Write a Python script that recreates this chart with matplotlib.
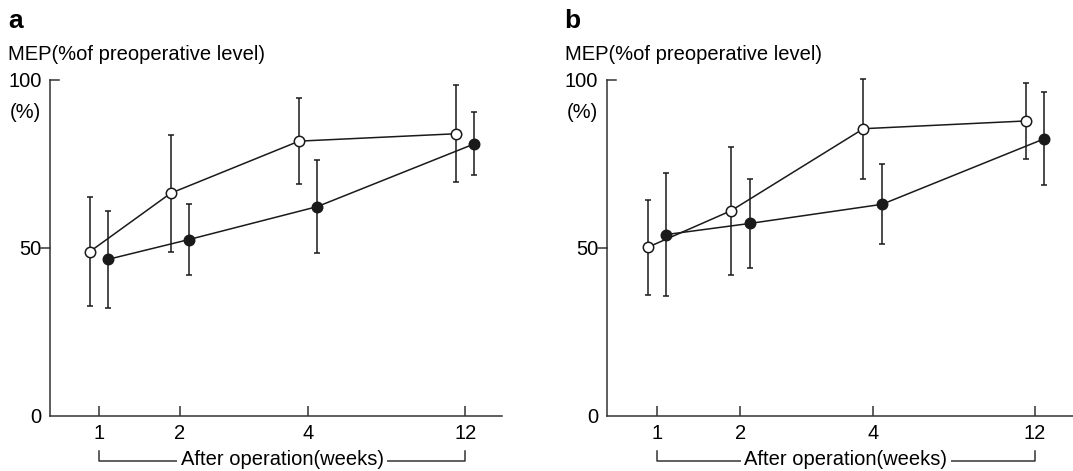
import matplotlib
matplotlib.use('Agg')
from matplotlib import pyplot as pl
from matplotlib.lines import Line2D

pl.rcParams['font.family'] = ['Liberation Sans', 'DejaVu Sans']

weeks = ['1', '2', '4', '12']
# relative tick positions along the x axis (unevenly spaced in the original)
week_pos = [0.108, 0.287, 0.571, 0.919]
shift = 0.02

# panel a
a_open = [48.9, 66.3, 81.8, 84.0]
a_open_err = [16.3, 17.4, 12.9, 14.5]
a_filled = [46.6, 52.5, 62.3, 81.0]
a_filled_err = [14.4, 10.6, 13.8, 9.4]

# panel b
b_open = [50.2, 61.1, 85.5, 87.8]
b_open_err = [14.1, 19.1, 14.9, 11.3]
b_filled = [54.0, 57.3, 63.0, 82.5]
b_filled_err = [18.2, 13.2, 11.9, 13.9]

panels = [
    ('a', a_open, a_open_err, a_filled, a_filled_err, [0.0466, 0.1168, 0.4213, 0.7134]),
    ('b', b_open, b_open_err, b_filled, b_filled_err, [0.5654, 0.1168, 0.4343, 0.7134]),
]

col = '#1a1a1a'
fs = 14.5
fig = pl.figure(figsize=(10.73, 4.71), dpi=100)

for name, op, op_e, fi, fi_e, rect in panels:
    ax = fig.add_axes(rect)
    x_open = [p - shift for p in week_pos]
    x_fill = [p + shift for p in week_pos]

    ax.errorbar(x_open, op, yerr=op_e, color=col, ecolor=col, lw=1.1,
                elinewidth=1.1, capsize=2, capthick=1.1, marker='o', ms=7.5,
                mfc='white', mec=col, mew=1.1, zorder=3, clip_on=False)
    ax.errorbar(x_fill, fi, yerr=fi_e, color=col, ecolor=col, lw=1.1,
                elinewidth=1.1, capsize=2, capthick=1.1, marker='o', ms=7.5,
                mfc=col, mec=col, mew=1.1, zorder=3, clip_on=False)

    ax.set_xlim(0, 1)
    ax.set_ylim(0, 100)
    for s in ['top', 'right']:
        ax.spines[s].set_visible(False)
    for s in ['left', 'bottom']:
        ax.spines[s].set_color('#333333')
        ax.spines[s].set_linewidth(1.1)

    ax.set_xticks(week_pos)
    ax.set_xticklabels(weeks, fontsize=fs)
    ax.tick_params(axis='x', direction='in', length=7, width=1.1,
                   color='#333333', pad=6)
    ax.set_yticks([0, 50, 100])
    ax.set_yticklabels(['0', '50', '100'], fontsize=fs)
    ax.tick_params(axis='y', length=0, pad=6)

    # y tick marks: 100 points inward, 50 points outward
    ytr = ax.get_yaxis_transform()
    tick_len = 9 / (rect[2] * 1073)
    ax.add_line(Line2D([0, tick_len], [100, 100], transform=ytr,
                       color='#333333', lw=1.1, clip_on=False))
    ax.add_line(Line2D([-tick_len, 0], [50, 50], transform=ytr,
                       color='#333333', lw=1.1, clip_on=False))

    # bracket under the week labels
    xtr = ax.get_xaxis_transform()
    ax.add_line(Line2D([week_pos[0], week_pos[0], week_pos[-1], week_pos[-1]],
                       [-0.104, -0.134, -0.134, -0.104], transform=xtr,
                       color='#333333', lw=1.1, clip_on=False))
    ax.text((week_pos[0] + week_pos[-1]) / 2, -0.13, 'After operation(weeks)',
            transform=xtr, ha='center', va='center', fontsize=fs,
            bbox=dict(facecolor='white', edgecolor='none', pad=2.5))

    off = -42 / (rect[2] * 1073)
    ax.text(off, 1.155, name, transform=ax.transAxes, fontsize=19,
            fontweight='bold', va='baseline')
    ax.text(off, 1.06, 'MEP(%of preoperative level)', transform=ax.transAxes,
            fontsize=fs, va='baseline')
    ax.text(off + 2 / (rect[2] * 1073), 0.902, '(%)', transform=ax.transAxes,
            fontsize=fs, va='center')

fig.savefig('out.png', dpi=100)
